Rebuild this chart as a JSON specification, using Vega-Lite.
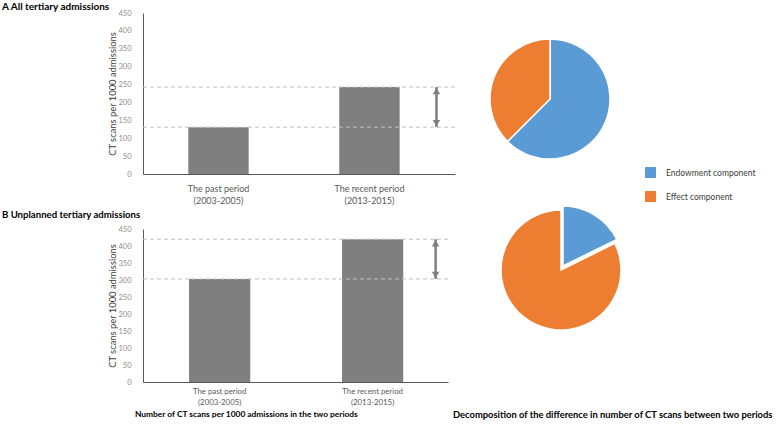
{
  "$schema": "https://vega.github.io/schema/vega-lite/v6.json",
  "padding": {"left": 2, "top": 2, "right": 0, "bottom": 0},
  "background": "white",
  "config": {
    "font": "Lato",
    "view": {"stroke": null},
    "axis": {"grid": false, "ticks": false, "domainColor": "#595959", "labelColor": "#8c8c8c", "labelFont": "Lato", "titleFont": "Lato", "titleFontWeight": "normal", "titleColor": "#404040", "labelFontSize": 7.5, "titleFontSize": 9.4},
    "axisY": {"labelOverlap": false, "tickCount": 10},
    "title": {"font": "Lato", "fontSize": 10, "fontWeight": "bold", "color": "#000000"},
    "concat": {"spacing": 0}
  },
  "datasets": {
    "barsA": [
      {"period": "The past period\n(2003-2005)", "value": 131},
      {"period": "The recent period\n(2013-2015)", "value": 243}
    ],
    "barsB": [
      {"period": "The past period\n(2003-2005)", "value": 303},
      {"period": "The recent period\n(2013-2015)", "value": 420}
    ],
    "diffA": [{"lo": 131, "hi": 243}],
    "diffB": [{"lo": 303, "hi": 420}],
    "pieA": [
      {"component": "Endowment component", "share": 62.5, "order": 1},
      {"component": "Effect component", "share": 37.5, "order": 2}
    ],
    "pieB": [
      {"component": "Endowment component", "share": 17.7, "order": 1},
      {"component": "Effect component", "share": 82.3, "order": 2}
    ]
  },
  "spacing": -3,
  "hconcat": [
    {
      "spacing": 5,
      "title": {"text": "Number of CT scans per 1000 admissions in the two periods", "orient": "bottom", "anchor": "start", "dx": 133, "offset": 4, "fontSize": 8.4},
      "vconcat": [
        {
          "width": 312,
          "height": 161,
          "title": {"text": "A  All tertiary admissions", "anchor": "start", "frame": "group", "dx": -141, "offset": -3},
          "layer": [
            {
              "data": {"name": "barsA"},
              "mark": {"type": "bar", "color": "#7f7f7f"},
              "encoding": {
                "x": {"field": "period", "type": "nominal", "sort": null,
                  "scale": {"paddingInner": 0.6, "paddingOuter": 0.3333, "align": 0.45},
                  "axis": {"title": null, "labelAngle": 0, "labelExpr": "split(datum.label, '\\n')", "labelColor": "#595959", "labelFontSize": 9, "labelPadding": 10, "labelLineHeight": 12}},
                "y": {"field": "value", "type": "quantitative",
                  "scale": {"domain": [0, 450], "nice": false},
                  "axis": {"title": "CT scans per 1000 admissions", "values": [0,50,100,150,200,250,300,350,400,450], "tickCount": 10, "labelOverlap": false, "labelPadding": 12, "titlePadding": 0}}
              }
            },
            {
              "data": {"name": "barsA"},
              "mark": {"type": "rule", "color": "#bfbfbf", "strokeDash": [4, 3], "strokeWidth": 1},
              "encoding": {"y": {"field": "value", "type": "quantitative"}}
            },
            {
              "data": {"name": "diffA"},
              "mark": {"type": "rule", "color": "#7f7f7f", "strokeWidth": 2.5, "xOffset": 67},
              "encoding": {
                "x": {"datum": "The recent period\n(2013-2015)"},
                "y": {"field": "lo", "type": "quantitative"},
                "y2": {"field": "hi"}
              }
            },
            {
              "data": {"name": "diffA"},
              "mark": {"type": "point", "shape": "triangle-up", "filled": true, "color": "#7f7f7f", "size": 55, "opacity": 1, "xOffset": 67, "yOffset": 4},
              "encoding": {"x": {"datum": "The recent period\n(2013-2015)"}, "y": {"field": "hi", "type": "quantitative"}}
            },
            {
              "data": {"name": "diffA"},
              "mark": {"type": "point", "shape": "triangle-down", "filled": true, "color": "#7f7f7f", "size": 55, "opacity": 1, "xOffset": 67, "yOffset": -4},
              "encoding": {"x": {"datum": "The recent period\n(2013-2015)"}, "y": {"field": "lo", "type": "quantitative"}}
            }
          ]
        },
        {
          "width": 305,
          "height": 153,
          "title": {"text": "B  Unplanned tertiary admissions", "anchor": "start", "frame": "group", "dx": -141, "offset": 5, "fontSize": 9.6},
          "layer": [
            {
              "data": {"name": "barsB"},
              "mark": {"type": "bar", "color": "#7f7f7f"},
              "encoding": {
                "x": {"field": "period", "type": "nominal", "sort": null,
                  "scale": {"paddingInner": 0.6, "paddingOuter": 0.297, "align": 0.507},
                  "axis": {"title": null, "labelAngle": 0, "labelExpr": "split(datum.label, '\\n')", "labelColor": "#595959", "labelFontSize": 7.8, "labelPadding": 5, "labelLineHeight": 11}},
                "y": {"field": "value", "type": "quantitative",
                  "scale": {"domain": [0, 450], "nice": false},
                  "axis": {"title": "CT scans per 1000 admissions", "values": [0,50,100,150,200,250,300,350,400,450], "tickCount": 10, "labelOverlap": false, "labelPadding": 12, "titlePadding": 0}}
              }
            },
            {
              "data": {"name": "barsB"},
              "mark": {"type": "rule", "color": "#bfbfbf", "strokeDash": [4, 3], "strokeWidth": 1},
              "encoding": {"y": {"field": "value", "type": "quantitative"}}
            },
            {
              "data": {"name": "diffB"},
              "mark": {"type": "rule", "color": "#7f7f7f", "strokeWidth": 2.5, "xOffset": 63},
              "encoding": {
                "x": {"datum": "The recent period\n(2013-2015)"},
                "y": {"field": "lo", "type": "quantitative"},
                "y2": {"field": "hi"}
              }
            },
            {
              "data": {"name": "diffB"},
              "mark": {"type": "point", "shape": "triangle-up", "filled": true, "color": "#7f7f7f", "size": 55, "opacity": 1, "xOffset": 63, "yOffset": 4},
              "encoding": {"x": {"datum": "The recent period\n(2013-2015)"}, "y": {"field": "hi", "type": "quantitative"}}
            },
            {
              "data": {"name": "diffB"},
              "mark": {"type": "point", "shape": "triangle-down", "filled": true, "color": "#7f7f7f", "size": 55, "opacity": 1, "xOffset": 63, "yOffset": -4},
              "encoding": {"x": {"datum": "The recent period\n(2013-2015)"}, "y": {"field": "lo", "type": "quantitative"}}
            }
          ]
        }
      ]
    },
    {
      "spacing": 0,
      "resolve": {"legend": {"color": "independent"}},
      "title": {"text": "Decomposition of the difference in number of CT scans between two periods", "orient": "bottom", "anchor": "start", "dx": -34, "offset": 73, "fontSize": 9.4},
      "vconcat": [
        {
          "width": 120,
          "height": 172,
          "data": {"name": "pieA"},
          "mark": {"type": "arc", "outerRadius": 60, "stroke": "white", "strokeWidth": 1.5},
          "encoding": {
            "theta": {"field": "share", "type": "quantitative", "stack": true, "scale": {"domain": [0, 100]}},
            "order": {"field": "order", "type": "quantitative"},
            "color": {"field": "component", "type": "nominal",
              "scale": {"domain": ["Endowment component", "Effect component"], "range": ["#5b9bd5", "#ed7d31"]},
              "legend": {"title": null, "orient": "none", "legendX": 155, "legendY": 154, "symbolType": "square", "symbolSize": 120, "rowPadding": 13, "labelFontSize": 8.5, "labelColor": "#404040", "labelOffset": 10, "symbolStrokeWidth": 0}}
          }
        },
        {
          "width": 142,
          "height": 136,
          "data": {"name": "pieB"},
          "transform": [
            {"stack": "share", "groupby": [], "sort": [{"field": "order"}], "as": ["s0", "s1"]}
          ],
          "layer": [
            {
              "transform": [{"filter": "datum.order == 2"}],
              "mark": {"type": "arc", "outerRadius": 60, "stroke": "white", "strokeWidth": 1.5},
              "encoding": {
                "theta": {"field": "s0", "type": "quantitative", "scale": {"domain": [0, 100]}},
                "theta2": {"field": "s1"},
                "color": {"field": "component", "type": "nominal",
                  "scale": {"domain": ["Endowment component", "Effect component"], "range": ["#5b9bd5", "#ed7d31"]}, "legend": null}
              }
            },
            {
              "transform": [{"filter": "datum.order == 1"}],
              "mark": {"type": "arc", "outerRadius": 60, "stroke": "white", "strokeWidth": 1.5, "xOffset": 2, "yOffset": -4},
              "encoding": {
                "theta": {"field": "s0", "type": "quantitative", "scale": {"domain": [0, 100]}},
                "theta2": {"field": "s1"},
                "color": {"field": "component", "type": "nominal",
                  "scale": {"domain": ["Endowment component", "Effect component"], "range": ["#5b9bd5", "#ed7d31"]}, "legend": null}
              }
            }
          ]
        }
      ]
    }
  ]
}
